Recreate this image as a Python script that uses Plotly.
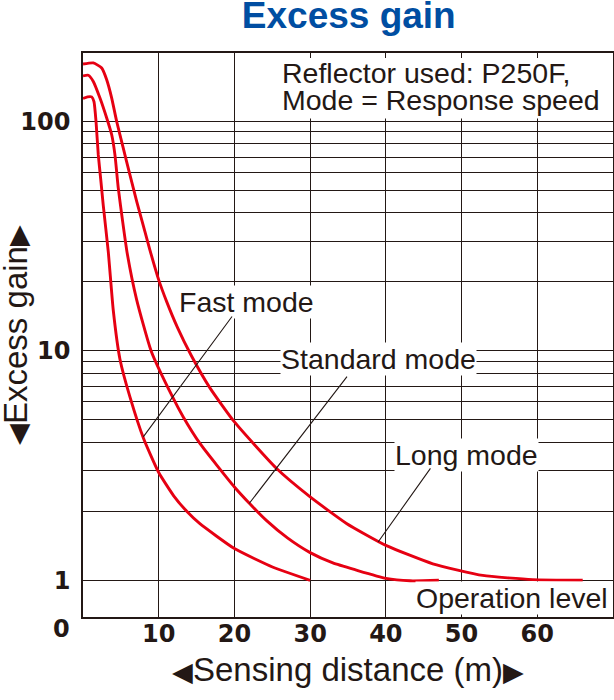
"""Excess gain vs sensing distance chart (reflector P250F, response speed modes)."""

import plotly.graph_objects as go

# ── Data ─────────────────────────────────────────────────────────────────────

fast_x = [0, 0.6, 1.15, 1.45, 1.72, 2.02, 2.34, 2.68, 3.34, 4.0, 4.88, 6.2, 8.0,
          10, 12, 13.7, 15.4, 20, 25.1, 30]
fast_y = [126, 128, 128, 122, 100, 71.5, 56, 43, 27, 15, 9.2, 6.3, 4.15,
          2.95, 2.33, 2.0, 1.77, 1.375, 1.14, 1.0]

standard_x = [0, 0.7, 1.36, 2.24, 3.13, 3.79, 4.22, 4.66, 5.24, 5.85, 7.09, 9.0,
              11.83, 13.24, 15.44, 20, 22, 24.25, 27, 30, 33, 36, 40, 43.2, 47]
standard_y = [158, 159, 149.5, 126.5, 103.5, 87.5, 71.5, 51.2, 36.6, 26.5, 16.7, 10.0,
              6.3, 5.15, 3.95, 2.55, 2.16, 1.82, 1.53, 1.32, 1.19, 1.11, 1.02, 0.995, 1.0]

long_x = [0, 1.36, 2.47, 3.13, 3.79, 4.45, 5.32, 6.2, 7.09, 8.18, 8.84, 10, 11.05,
          12.5, 14.3, 16.76, 20, 25.57, 30, 34.8, 40, 46.2, 52.8, 59.4, 66]
long_y = [178, 180, 171, 152, 126.5, 100, 76.5, 58.5, 44.8, 33.1, 27.5, 20.4, 16.4,
          12.6, 9.55, 6.9, 4.9, 3.07, 2.31, 1.77, 1.42, 1.18, 1.05, 1.007, 1.0]

x_ticks = [10, 20, 30, 40, 50, 60]
y_grid = [1, 2, 3, 4, 5, 6, 7, 8, 9, 10, 20, 30, 40, 50, 60, 70, 80, 90, 100]
y_labels = {1: "1", 10: "10", 100: "100"}

# ── Style ────────────────────────────────────────────────────────────────────

INK = "#231815"
RED = "#e60012"
BLUE = "#004ea2"
SANS = "Liberation Sans, Arial, sans-serif"
TEXT_FONT = dict(family=SANS, size=28.5, color=INK)
TICK_FONT = dict(family="DejaVu Sans", size=24, color=INK, weight="bold")
TRI = "<span style='font-size:27px'>{}</span>"

fig = go.Figure()
for xs, ys in [(fast_x, fast_y), (standard_x, standard_y), (long_x, long_y)]:
    fig.add_trace(go.Scatter(
        x=xs, y=ys, mode="lines",
        line=dict(color=RED, width=2.9, shape="spline", smoothing=0.5),
        hoverinfo="skip", showlegend=False,
    ))

# ── Labels and leader lines ──────────────────────────────────────────────────

def label(text, x, y, bg="white", **kw):
    fig.add_annotation(x=x, y=y, text=text, showarrow=False, font=TEXT_FONT,
                       bgcolor=bg, borderpad=0, **kw)

def leader(x0, y0, x1, y1):
    fig.add_annotation(x=x1, y=y1, ax=x0, ay=y0, axref="x", ayref="y", text="",
                       showarrow=True, arrowhead=0, arrowwidth=1.1, arrowcolor=INK)

# white panel behind the two-line note (lines sit closer than one annotation allows)
fig.add_shape(type="rect", xref="paper", yref="paper", x0=0.368, x1=0.997,
              y0=0.884, y1=0.991, fillcolor="white", line_width=0, layer="above")
label("Reflector used: P250F,", 26.1, 2.2125, bg="rgba(0,0,0,0)", xanchor="left")
label("Mode = Response speed", 26.1, 2.0947, bg="rgba(0,0,0,0)", xanchor="left")
label("Fast mode", 21.6, 1.211)
label("Standard mode", 39.0, 0.9645)
label("Long mode", 50.65, 0.5455)
label("Operation level", 56.63, -0.0786)

leader(19.83, 1.1565, 7.96, 0.6254)
leader(35.02, 0.8946, 21.95, 0.3347)
leader(46.03, 0.4944, 38.98, 0.1671)

# fake "0" at the foot of the y axis
fig.add_annotation(x=0, y=0, xref="paper", yref="paper", text="0", showarrow=False,
                   xanchor="right", yanchor="middle", xshift=-11, yshift=-11.5,
                   font=TICK_FONT)

# axis titles with arrowheads
fig.add_annotation(
    x=0.5, y=0, xref="paper", yref="paper", showarrow=False, yanchor="middle", yshift=-52,
    text=TRI.format("◀") + "Sensing distance (m)" + TRI.format("▶"),
    font=dict(family=SANS, size=33, color=INK),
)
fig.add_annotation(
    x=0, y=0.5, xref="paper", yref="paper", showarrow=False, xanchor="center",
    xshift=-68, textangle=-90,
    text=TRI.format("◀") + "Excess gain" + TRI.format("▶"),
    font=dict(family=SANS, size=33, color=INK),
)

# ── Layout ───────────────────────────────────────────────────────────────────

axis_common = dict(
    showline=True, mirror=True, linecolor=INK, linewidth=1.6,
    showgrid=True, gridcolor=INK, gridwidth=1.3, zeroline=False,
    ticks="", ticklen=0, tickfont=TICK_FONT, automargin=False, fixedrange=True,
)

fig.update_layout(
    width=614, height=700,
    margin=dict(l=83, r=1, t=53, b=83),
    paper_bgcolor="white", plot_bgcolor="white",
    title=dict(text="<b>Excess gain</b>", x=0.568, xanchor="center", y=0.979,
               yanchor="middle", automargin=False,
               font=dict(family=SANS, size=37, color=BLUE)),
    xaxis=dict(range=[0, 70], tickvals=x_ticks, ticklabelstandoff=-6, **axis_common),
    yaxis=dict(type="log", range=[-0.16, 2.2985], tickvals=y_grid,
               ticktext=[y_labels.get(v, "") for v in y_grid], ticklabelstandoff=6,
               **axis_common),
)

# the page body has a default 8px margin; drop it so the figure sits at 0,0
fig.write_html("out.html", config={"displayModeBar": False},
               post_script="document.body.style.margin = '0';")
